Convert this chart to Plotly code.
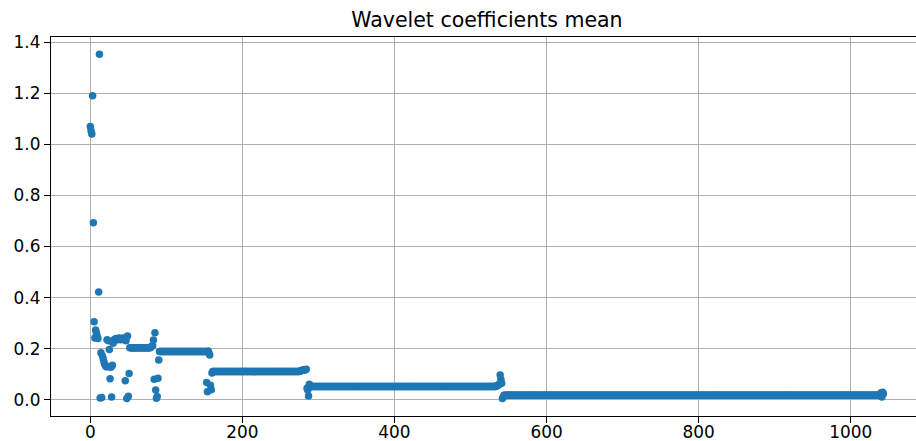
import plotly.graph_objects as go

# ---- values (index order) ----
seg0_vals = [1.07, 1.053, 1.04, 1.19, 0.693, 0.306, 0.242, 0.274, 0.262, 0.25,
             0.24, 0.422, 1.352, 0.008]
seg1_vals = [0.185, 0.01, 0.172, 0.16, 0.148, 0.14, 0.134, 0.13, 0.236, 0.13,
             0.232, 0.197, 0.083, 0.128, 0.012, 0.136, 0.222, 0.234, 0.238, 0.236,
             0.24, 0.238, 0.236, 0.24, 0.242, 0.238, 0.236, 0.24, 0.238, 0.24,
             0.242, 0.236, 0.075, 0.232, 0.006, 0.25, 0.015, 0.104]
seg2_level = 0.204
seg2_count = 28
seg2_tail = [0.208, 0.21, 0.212, 0.235, 0.081, 0.263, 0.039, 0.007, 0.014, 0.085, 0.156]
seg3_level = 0.19
seg3_count = 62
seg3_tail = [0.068, 0.032, 0.192, 0.184, 0.176, 0.058, 0.04, 0.106]
seg4_level = 0.111
seg4_count = 115
seg4_tail = [0.113, 0.114, 0.115, 0.116, 0.117, 0.118, 0.117, 0.118, 0.12,
             0.046, 0.039, 0.016, 0.062]
seg5_level = 0.053
seg5_count = 245
seg5_tail = [0.055, 0.056, 0.058, 0.06, 0.062, 0.098, 0.08, 0.065, 0.006, 0.012]
seg6_level = 0.019
seg6_count = 496
seg6_tail = [0.028, 0.012, 0.03, 0.024]

y_vals = (seg0_vals + seg1_vals
          + [seg2_level] * seg2_count + seg2_tail
          + [seg3_level] * seg3_count + seg3_tail
          + [seg4_level] * seg4_count + seg4_tail
          + [seg5_level] * seg5_count + seg5_tail
          + [seg6_level] * seg6_count + seg6_tail)
x_vals = list(range(len(y_vals)))

x_ticks = [0, 200, 400, 600, 800, 1000]
y_ticks = [0.0, 0.2, 0.4, 0.6, 0.8, 1.0, 1.2, 1.4]
y_ticktext = ["0.0", "0.2", "0.4", "0.6", "0.8", "1.0", "1.2", "1.4"]

fig = go.Figure(go.Scatter(
    x=x_vals, y=y_vals, mode="markers",
    marker=dict(color="#1f77b4", size=7.5, line=dict(width=0)),
))

fig.update_layout(
    width=916, height=441,
    margin=dict(l=51, r=0, t=37, b=25),
    paper_bgcolor="white", plot_bgcolor="white",
    font=dict(family="DejaVu Sans", size=16.9, color="black"),
    showlegend=False,
    title=dict(text="Wavelet coefficients mean", x=0.504, xref="paper", xanchor="center",
               y=1 - 20 / 441, yref="container", yanchor="middle",
               font=dict(family="DejaVu Sans", size=20.5, color="black")),
)
fig.update_xaxes(
    range=[-51.7, 1085.9], tickvals=x_ticks, automargin=False, ticklabelstandoff=-5,
    showgrid=True, gridcolor="#b0b0b0", gridwidth=1.35, zeroline=False,
    showline=True, linecolor="black", linewidth=1.35, mirror=True,
    ticks="outside", ticklen=6, tickwidth=1.35, tickcolor="black",
)
fig.update_yaxes(
    range=[-0.0626, 1.4196], tickvals=y_ticks, ticktext=y_ticktext, automargin=False,
    showgrid=True, gridcolor="#b0b0b0", gridwidth=1.35, zeroline=False,
    showline=True, linecolor="black", linewidth=1.35,
    ticks="outside", ticklen=6, tickwidth=1.35, tickcolor="black",
)

fig.write_html("out.html")
